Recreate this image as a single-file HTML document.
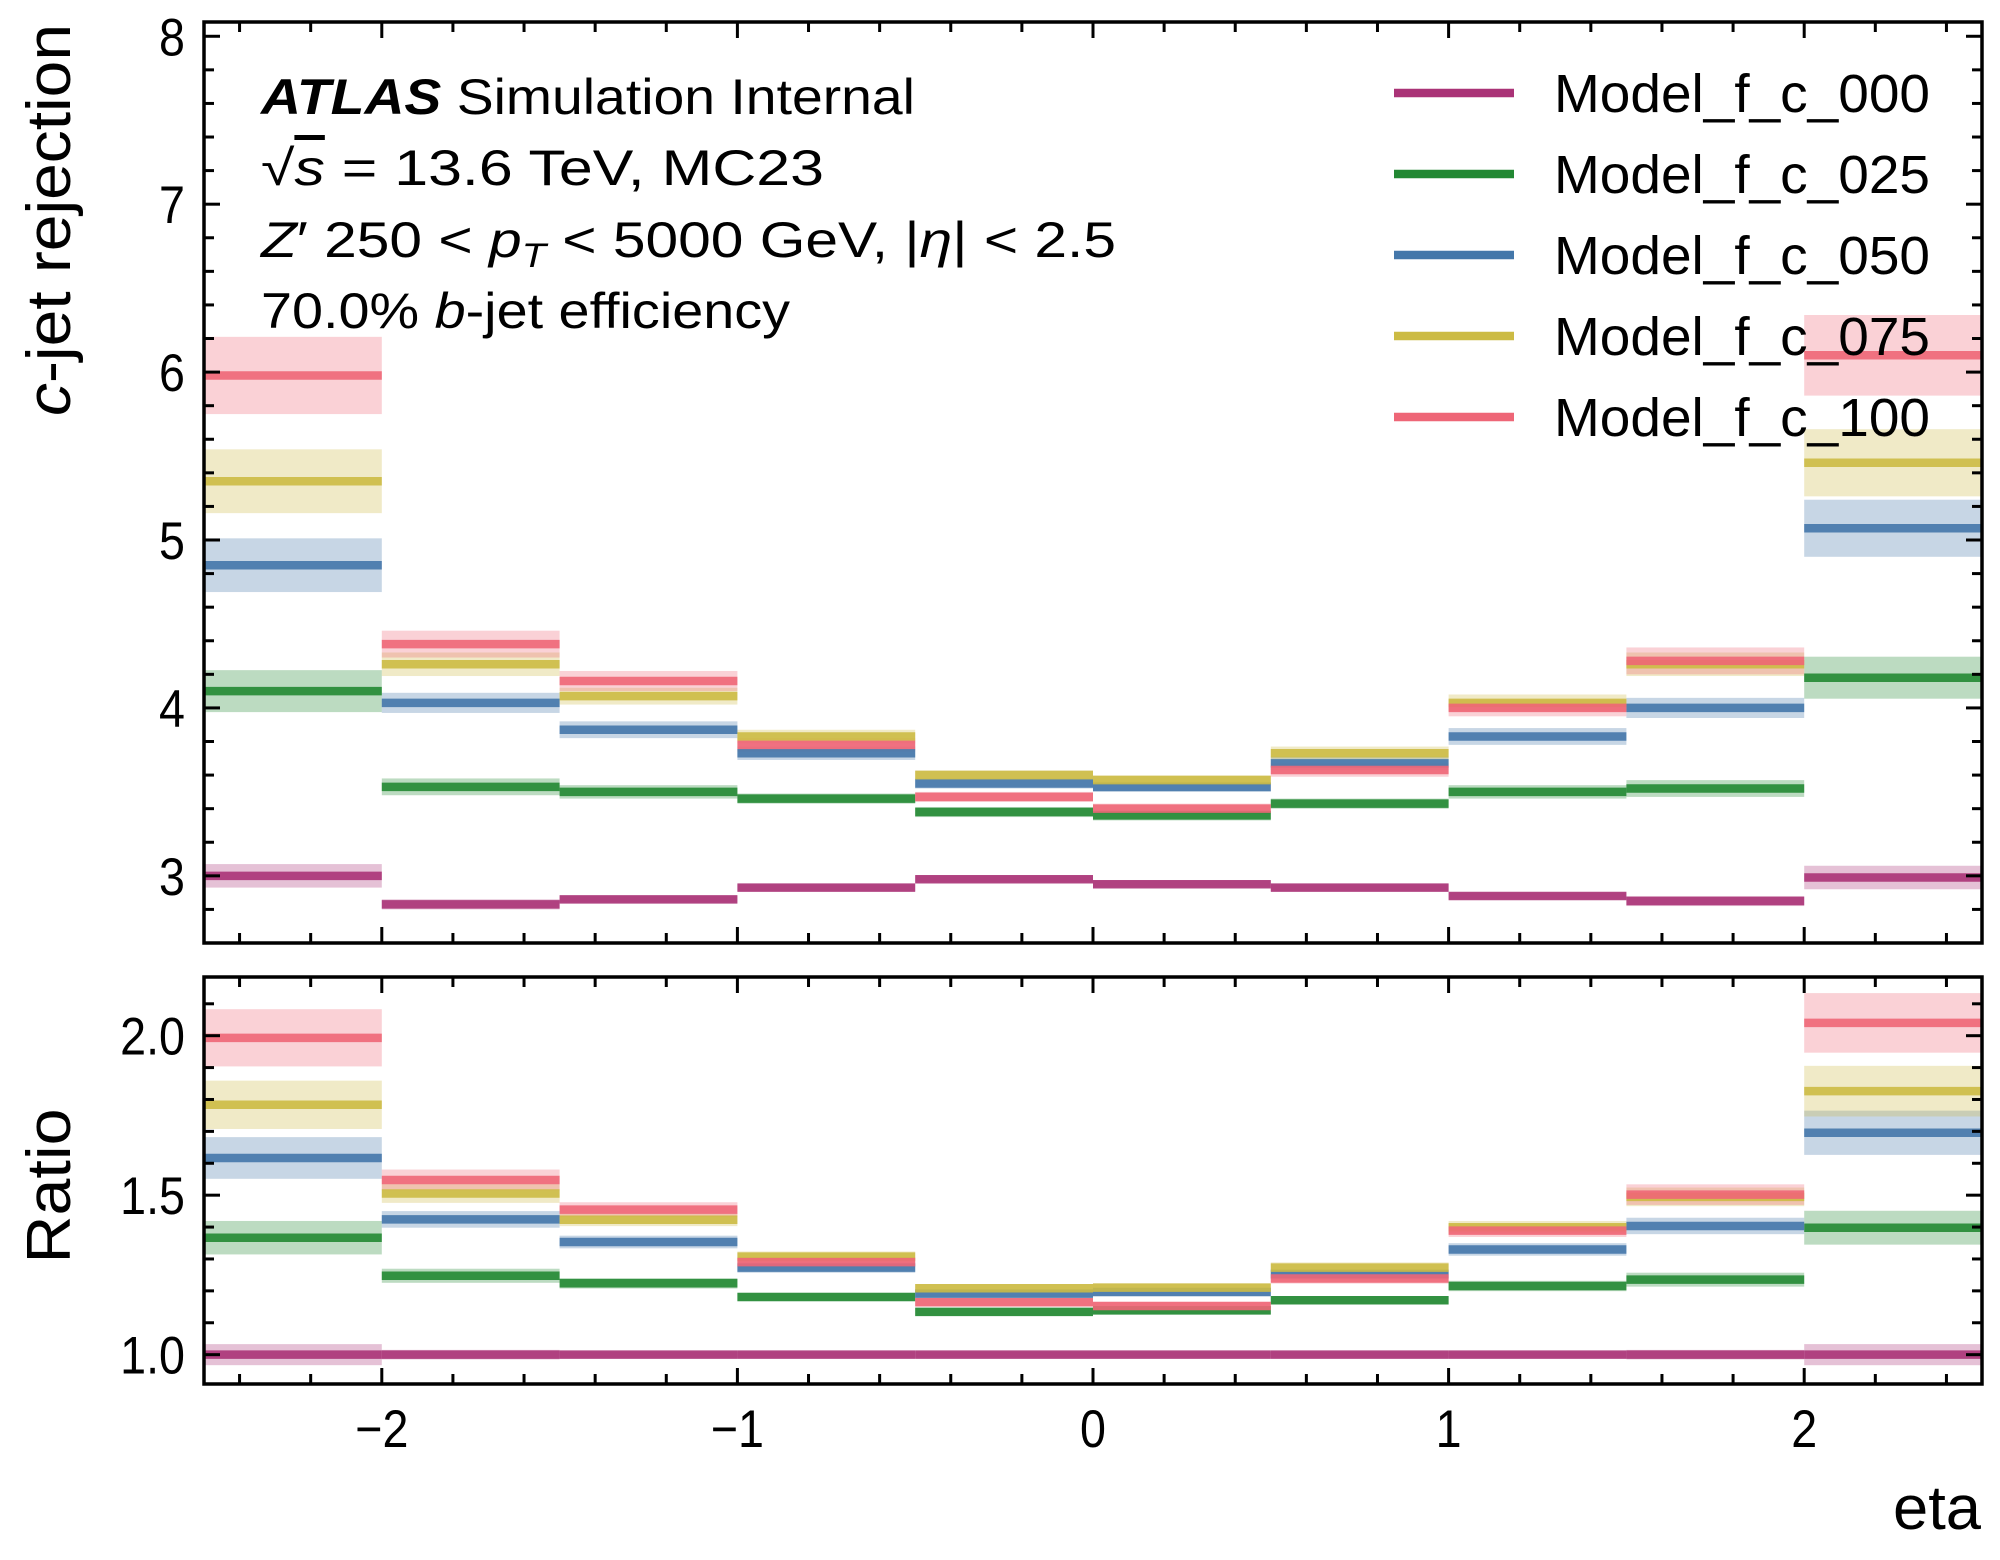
<!DOCTYPE html>
<html><head><meta charset="utf-8"><style>
html,body{margin:0;padding:0;background:#fff}
svg{display:block;font-family:"Liberation Sans",sans-serif}
</style></head><body>
<svg id="chart" width="2000" height="1560" viewBox="0 0 2000 1560" xmlns="http://www.w3.org/2000/svg">
<g id="bands"></g><g id="lines"></g><g id="axes"></g>
<g font-size="50">
<text x="261" y="114" textLength="654" lengthAdjust="spacingAndGlyphs"><tspan font-weight="bold" font-style="italic">ATLAS</tspan> Simulation Internal</text>
<text x="261" y="185" textLength="563" lengthAdjust="spacingAndGlyphs">√<tspan font-style="italic" text-decoration="overline">s</tspan> = 13.6 TeV, MC23</text>
<text x="261" y="257" textLength="855" lengthAdjust="spacingAndGlyphs"><tspan font-style="italic">Z</tspan>′ 250 &lt; <tspan font-style="italic">p</tspan><tspan font-style="italic" font-size="34" dy="10">T</tspan><tspan dy="-10"> &lt; 5000 GeV, |</tspan><tspan font-style="italic">η</tspan>| &lt; 2.5</text>
<text x="261" y="328" textLength="529" lengthAdjust="spacingAndGlyphs">70.0% <tspan font-style="italic">b</tspan>-jet efficiency</text>
</g>
<g id="legend"></g>
<text transform="translate(70,220) rotate(-90)" text-anchor="middle" font-size="62" textLength="392" lengthAdjust="spacingAndGlyphs"><tspan font-style="italic">c</tspan>-jet rejection</text>
<text transform="translate(70,1186) rotate(-90)" text-anchor="middle" font-size="62" textLength="155" lengthAdjust="spacingAndGlyphs">Ratio</text>
<text x="1981" y="1529" text-anchor="end" font-size="62" textLength="88" lengthAdjust="spacingAndGlyphs">eta</text>
</svg>
<script>
const binEdges=[-2.5,-2,-1.5,-1,-0.5,0,0.5,1,1.5,2,2.5];
const seriesNames=["Model_f_c_000","Model_f_c_025","Model_f_c_050","Model_f_c_075","Model_f_c_100"];
const seriesColors=["#aa3377","#228833","#4477aa","#ccbb44","#ee6677"];
const vals000=[3.00,2.83,2.86,2.93,2.98,2.95,2.93,2.88,2.85,2.99];
const vals025=[4.10,3.53,3.50,3.46,3.38,3.36,3.43,3.50,3.52,4.18];
const vals050=[4.85,4.03,3.87,3.73,3.55,3.53,3.67,3.83,4.00,5.07];
const vals075=[5.35,4.26,4.07,3.83,3.60,3.57,3.73,4.03,4.26,5.46];
const vals100=[5.98,4.38,4.16,3.78,3.47,3.40,3.63,4.00,4.28,6.10];
const err000=[0.07,0.03,0.02,0.02,0.02,0.02,0.02,0.02,0.03,0.07];
const err025=[0.125,0.05,0.04,0.03,0.03,0.03,0.03,0.04,0.05,0.125];
const err050=[0.16,0.06,0.05,0.04,0.03,0.03,0.04,0.05,0.06,0.17];
const err075=[0.19,0.07,0.05,0.04,0.03,0.03,0.04,0.05,0.07,0.20];
const err100=[0.23,0.08,0.06,0.04,0.03,0.03,0.04,0.05,0.08,0.24];
const xTicks=[-2,-1,0,1,2];
const xTickLabels=["−2","−1","0","1","2"];
const yTicksTop=[3,4,5,6,7,8];
const yTicksBottom=[1.0,1.5,2.0];
const yTickLabelsBottom=["1.0","1.5","2.0"];

const allVals=[vals000,vals025,vals050,vals075,vals100];
const allErr=[err000,err025,err050,err075,err100];
const NS="http://www.w3.org/2000/svg";
const L=204,R=1982,T1=22,B1=943,T2=977,B2=1384;
const xMin=-2.5,xMax=2.5,y1Min=2.6,y1Max=8.085,y2Min=0.908,y2Max=2.184;
const sx=v=>L+(v-xMin)/(xMax-xMin)*(R-L);
const sy1=v=>B1-(v-y1Min)/(y1Max-y1Min)*(B1-T1);
const sy2=v=>B2-(v-y2Min)/(y2Max-y2Min)*(B2-T2);
function mk(tag,attrs,parent){const e=document.createElementNS(NS,tag);for(const k in attrs)e.setAttribute(k,attrs[k]);parent.appendChild(e);return e;}
const gB=document.getElementById('bands'),gL=document.getElementById('lines'),gA=document.getElementById('axes'),gLeg=document.getElementById('legend');
function clip(id,t,b){const d=mk('clipPath',{id:id},document.getElementById('chart'));mk('rect',{x:L,y:t,width:R-L,height:b-t},d);}
clip('c1',T1,B1);clip('c2',T2,B2);
const bandTop=mk('g',{'clip-path':'url(#c1)'},gB),bandBot=mk('g',{'clip-path':'url(#c2)'},gB);
const lineTop=mk('g',{'clip-path':'url(#c1)'},gL),lineBot=mk('g',{'clip-path':'url(#c2)'},gL);
allVals.forEach((vals,s)=>{
  const col=seriesColors[s];
  for(let i=0;i<vals.length;i++){
    const x0=sx(binEdges[i]),x1=sx(binEdges[i+1]);
    const v=vals[i],e=allErr[s][i];
    let b=mk('rect',{x:x0,y:sy1(v+e),width:x1-x0,height:sy1(v-e)-sy1(v+e),fill:col,'fill-opacity':0.3},bandTop);
    
    
    let l=mk('line',{x1:x0,x2:x1,y1:sy1(v),y2:sy1(v),stroke:col,'stroke-width':8.5,'stroke-opacity':0.9},lineTop);
    
    
    const p=vals000[i],ep=err000[i],r=v/p;
    const re=r*Math.sqrt((e/v)**2+(ep/p)**2);
    let b2=mk('rect',{x:x0,y:sy2(r+re),width:x1-x0,height:sy2(r-re)-sy2(r+re),fill:col,'fill-opacity':0.3},bandBot);
    
    
    let l2=mk('line',{x1:x0,x2:x1,y1:sy2(r),y2:sy2(r),stroke:col,'stroke-width':8.5,'stroke-opacity':0.9},lineBot);
    
    
  }
  const ly=93+s*81;
  let ll=mk('line',{x1:1394,x2:1514,y1:ly,y2:ly,stroke:col,'stroke-width':8.5},gLeg);
  
  
  let lt=mk('text',{x:1554,y:ly+19,'font-size':54,textLength:376,lengthAdjust:'spacingAndGlyphs'},gLeg);
  lt.textContent=seriesNames[s];
  
  
});
[[T1,B1],[T2,B2]].forEach(([t,b],k)=>{
  let f=mk('rect',{x:L,y:t,width:R-L,height:b-t,fill:'none',stroke:'#000','stroke-width':3.5},gA);
  
  
  for(let v=-2.4;v<=2.41;v+=0.2){
    const x=sx(v),maj=Math.abs(v-Math.round(v))<1e-6,len=maj?16:10;
    mk('line',{x1:x,x2:x,y1:b,y2:b-len,stroke:'#000','stroke-width':3},gA);
    mk('line',{x1:x,x2:x,y1:t,y2:t+len,stroke:'#000','stroke-width':3},gA);
  }
});
for(let v=2.6;v<=8.01;v+=0.2){const y=sy1(v),maj=Math.abs(v-Math.round(v))<1e-6,len=maj?16:10;
  mk('line',{x1:L,x2:L+len,y1:y,y2:y,stroke:'#000','stroke-width':3},gA);
  mk('line',{x1:R,x2:R-len,y1:y,y2:y,stroke:'#000','stroke-width':3},gA);}
for(let v=1.0;v<=2.11;v+=0.1){const y=sy2(v),maj=Math.abs(v*2-Math.round(v*2))<1e-6,len=maj?16:10;
  mk('line',{x1:L,x2:L+len,y1:y,y2:y,stroke:'#000','stroke-width':3},gA);
  mk('line',{x1:R,x2:R-len,y1:y,y2:y,stroke:'#000','stroke-width':3},gA);}
yTicksTop.forEach(v=>{let t=mk('text',{transform:'translate(185,'+(sy1(v)+19)+') scale(0.88,1)','text-anchor':'end','font-size':53},gA);t.textContent=v;
  
  });
yTicksBottom.forEach((v,i)=>{let t=mk('text',{transform:'translate(185,'+(sy2(v)+19)+') scale(0.88,1)','text-anchor':'end','font-size':53},gA);t.textContent=yTickLabelsBottom[i];
  
  });
xTicks.forEach((v,i)=>{let t=mk('text',{transform:'translate('+sx(v)+',1447) scale(0.88,1)','text-anchor':'middle','font-size':53},gA);t.textContent=xTickLabels[i];
  
  });
</script>
</body></html>
